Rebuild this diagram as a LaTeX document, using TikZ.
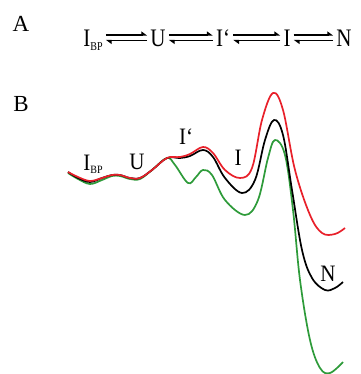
\documentclass[tikz,border=0pt]{standalone}
\usepackage{fontspec}
\setmainfont{Liberation Serif}
\usepackage{xcolor}
\usetikzlibrary{arrows.meta,positioning,calc}

\newcommand{\ibp}{I\raisebox{-0.3ex}{\fontsize{10}{10}\selectfont BP}}

\begin{document}
\begin{tikzpicture}[
  x=1pt, y=-1pt,
  panel/.style={font=\fontsize{23}{23}\selectfont, anchor=base},
  spec/.style={font=\fontsize{21}{21}\selectfont, anchor=base, inner sep=1.5pt, transform shape, yscale=1.2},
  lab/.style={font=\fontsize{21}{21}\selectfont, anchor=base, inner sep=1pt, transform shape, yscale=1.12},
  fwd/.style={-{Triangle[left, length=5pt, width=7pt]}, line width=1.25pt},
  curve/.style={line width=1.7pt, smooth, tension=0.6},
]
\definecolor{cR}{HTML}{E8202A}
\definecolor{cG}{HTML}{2E9B3A}
\useasboundingbox (0,0) rectangle (360,374);

% panel letters
\node[panel] (pa) at (21,32) {A};
\node[panel] (pb) at (21,112) {B};

% scheme
\node[spec] (ibp) at (93,47) {\ibp};
\node[spec] (u) at (158,47) {U};
\node[spec] (ip) at (223,47) {I‘};
\node[spec] (i) at (287,47) {I};
\node[spec] (n) at (344,47) {N};
\foreach \a/\b in {ibp/u, u/ip, ip/i, i/n}{
  \draw[fwd] ($(\a.base east)+(1.5,-12)$) -- ($(\b.base west)+(-1.5,-12)$);
  \draw[fwd] ($(\b.base west)+(-1.5,-6.5)$) -- ($(\a.base east)+(1.5,-6.5)$);
}

% energy landscape
\draw[curve, cG] plot coordinates {(68,173) (78,179) (90,184) (102,180) (112,176) (120,176) (130,179) (140,179) (152,170) (167,158) (175,165) (188,183) (196,177) (203,170) (212,175) (225,200) (245,215) (258,200) (268,158) (275,140) (285,155) (293,210) (300,280) (310,340) (320,368) (330,373) (343,362)};
\draw[curve, black] plot coordinates {(68,172) (78,178) (90,182) (102,178) (112,175) (120,175) (130,178) (140,178) (152,170) (167,158) (180,158) (190,156) (203,150) (213,157) (225,178) (242,193) (255,180) (265,140) (274,120) (283,135) (292,190) (302,250) (312,278) (325,290) (335,288) (343,282)};
\draw[curve, cR] plot coordinates {(68,172) (78,177) (90,181) (102,178) (112,175) (120,175) (130,178) (140,178) (152,170) (167,158) (180,157) (190,154) (203,147) (213,153) (225,170) (240,178) (252,168) (262,120) (273,93) (283,110) (295,170) (310,215) (322,233) (335,234) (345,228)};

% state labels
\node[lab] (lbp) at (93,170) {\ibp};
\node[lab] (lu) at (137,169) {U};
\node[lab] (lip) at (186,145) {I‘};
\node[lab] (li) at (238,165) {I};
\node[lab] (ln) at (328,281) {N};
\end{tikzpicture}
\end{document}
